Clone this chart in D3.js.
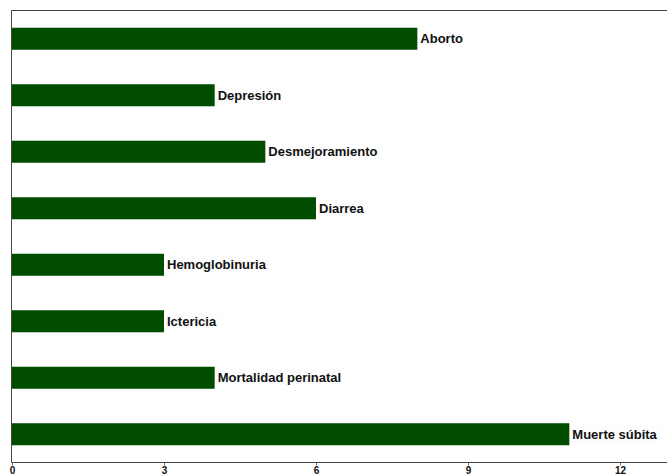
<!DOCTYPE html>
<html><head><meta charset="utf-8">
<script src="https://cdn.jsdelivr.net/npm/d3@7"></script>
<style>body{margin:0;background:#fff;} svg{display:block;}</style>
</head><body>
<script>
const categories = ["Aborto","Depresión","Desmejoramiento","Diarrea","Hemoglobinuria","Ictericia","Mortalidad perinatal","Muerte súbita"];
const values = [8,4,5,6,3,3,4,11];
const xTicks = [0,3,6,9,12];

(function(){
const W = 667, H = 476;
const mLeft = 11.5, mTop = 10.5, mBottom = 462.5;
const svg = d3.select("body").append("svg").attr("width", W).attr("height", H);
svg.append("rect").attr("width", W).attr("height", H).attr("fill", "#fff");

const x = d3.scaleLinear().domain([0, 12]).range([12, 620]);
const y = d3.scaleBand().domain(categories).range([mTop, mBottom]).paddingInner(0.61).paddingOuter(0.305);

svg.selectAll("rect.bar").data(categories).enter().append("rect")
  .attr("class","bar")
  .attr("x", x(0))
  .attr("y", d => y(d))
  .attr("width", (d,i) => x(values[i]) - x(0))
  .attr("height", y.bandwidth())
  .attr("fill", "#004d00");

const lab = svg.selectAll("g.lab").data(categories).enter().append("g").attr("class","lab");
lab.each(function(d,i){
  const g = d3.select(this);
  const t = g.append("text")
    .attr("x", x(values[i]) + 3)
    .attr("y", y(d) + y.bandwidth()/2)
    .attr("dy", "0.35em")
    .attr("font-family", "Liberation Sans, Arial, sans-serif")
    .attr("font-weight", "bold")
    .attr("font-size", "13px")
    .attr("fill", "#111")
    .text(d);
  const bb = t.node().getBBox();
  g.insert("rect","text").attr("x", bb.x-1).attr("y", bb.y-1).attr("width", bb.width+3).attr("height", bb.height+2).attr("fill","#fdfdfd");
});

svg.append("line").attr("x1", mLeft).attr("x2", W).attr("y1", mTop).attr("y2", mTop).attr("stroke", "#444").attr("stroke-width", 1);
svg.append("line").attr("x1", mLeft).attr("x2", mLeft).attr("y1", mTop).attr("y2", mBottom).attr("stroke", "#444").attr("stroke-width", 1);

const ax = svg.append("g").attr("transform", `translate(0,${mBottom})`)
  .call(d3.axisBottom(x).tickValues(xTicks).tickSize(3).tickPadding(1).tickSizeOuter(0));
ax.select(".domain").remove();
ax.selectAll(".tick line").attr("stroke", "#666");
ax.selectAll(".tick text").attr("font-family", "Liberation Sans, Arial, sans-serif").attr("font-weight","bold").attr("font-size","10px").attr("fill","#111");
svg.append("line").attr("x1", mLeft).attr("x2", W).attr("y1", mBottom).attr("y2", mBottom).attr("stroke", "#444").attr("stroke-width", 1);
})();
</script>
</body></html>
